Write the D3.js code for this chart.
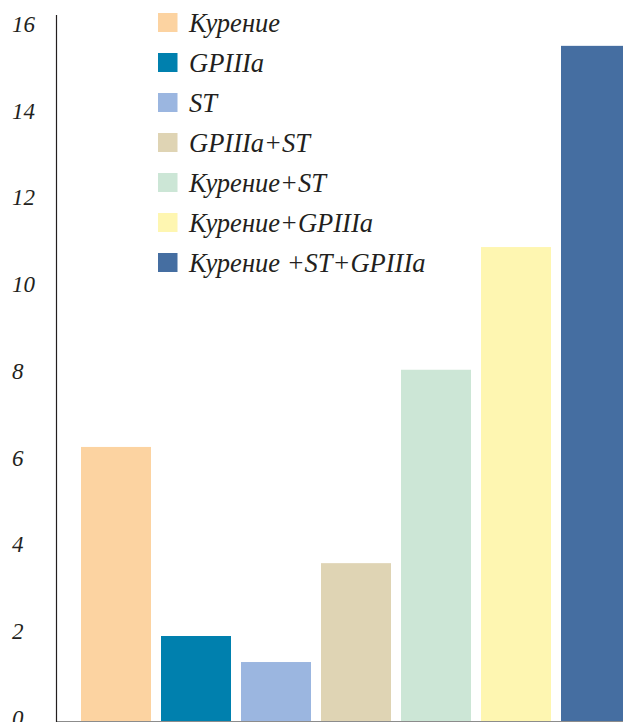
<!DOCTYPE html>
<html>
<head>
<meta charset="utf-8">
<script src="https://cdn.jsdelivr.net/npm/d3@7"></script>
<style>
  html, body { margin: 0; padding: 0; background: #fff; }
  svg { display: block; }
  text { font-family: "Liberation Serif", "Times New Roman", serif; font-style: italic; fill: #231f20; }
</style>
</head>
<body>
<svg id="chart" width="623" height="722"></svg>
<script>
const categories = ["Курение", "GPIIIa", "ST", "GPIIIa+ST", "Курение+ST", "Курение+GPIIIa", "Курение +ST+GPIIIa"];
const values = [6.32, 1.96, 1.36, 3.64, 8.1, 10.93, 15.57];
const colors = ["#fcd3a1", "#0080ae", "#9bb6e0", "#dfd4b4", "#cce6d6", "#fef6b1", "#456ea1"];
const tickValues = [0, 2, 4, 6, 8, 10, 12, 14, 16];

const svg = d3.select("#chart");
const axisX = 56.5;

const y = d3.scaleLinear().domain([0, 16]).range([721, 27.2]);
const x = d3.scaleBand().domain(categories).range([57, 655]).paddingInner(0.125).paddingOuter(0.3);

// bars
svg.append("g").selectAll("rect").data(categories).join("rect")
  .attr("x", d => x(d))
  .attr("y", (d, i) => y(values[i]))
  .attr("width", x.bandwidth())
  .attr("height", (d, i) => y(0) - y(values[i]))
  .attr("fill", (d, i) => colors[i]);

// baseline
svg.append("line")
  .attr("x1", axisX).attr("x2", 623)
  .attr("y1", y(0) + 0.5).attr("y2", y(0) + 0.5)
  .attr("stroke", "#000").attr("stroke-opacity", 0.45).attr("stroke-width", 1);

// y axis line
svg.append("line")
  .attr("x1", axisX).attr("x2", axisX)
  .attr("y1", 15).attr("y2", 722)
  .attr("stroke", "#231f20").attr("stroke-width", 1.2);

// tick labels
svg.append("g").selectAll("text").data(tickValues).join("text")
  .attr("x", 12)
  .attr("y", d => y(d) + 4.8)
  .attr("font-size", 23)
  .text(d => d);

// legend
const lg = svg.append("g");
categories.forEach((c, i) => {
  const top = 13 + i * 40;
  lg.append("rect").attr("x", 158).attr("y", top).attr("width", 19.5).attr("height", 19)
    .attr("fill", colors[i]);
  lg.append("text").attr("x", 189).attr("y", top + 19).attr("font-size", 26.5).text(c);
});
</script>
</body>
</html>
